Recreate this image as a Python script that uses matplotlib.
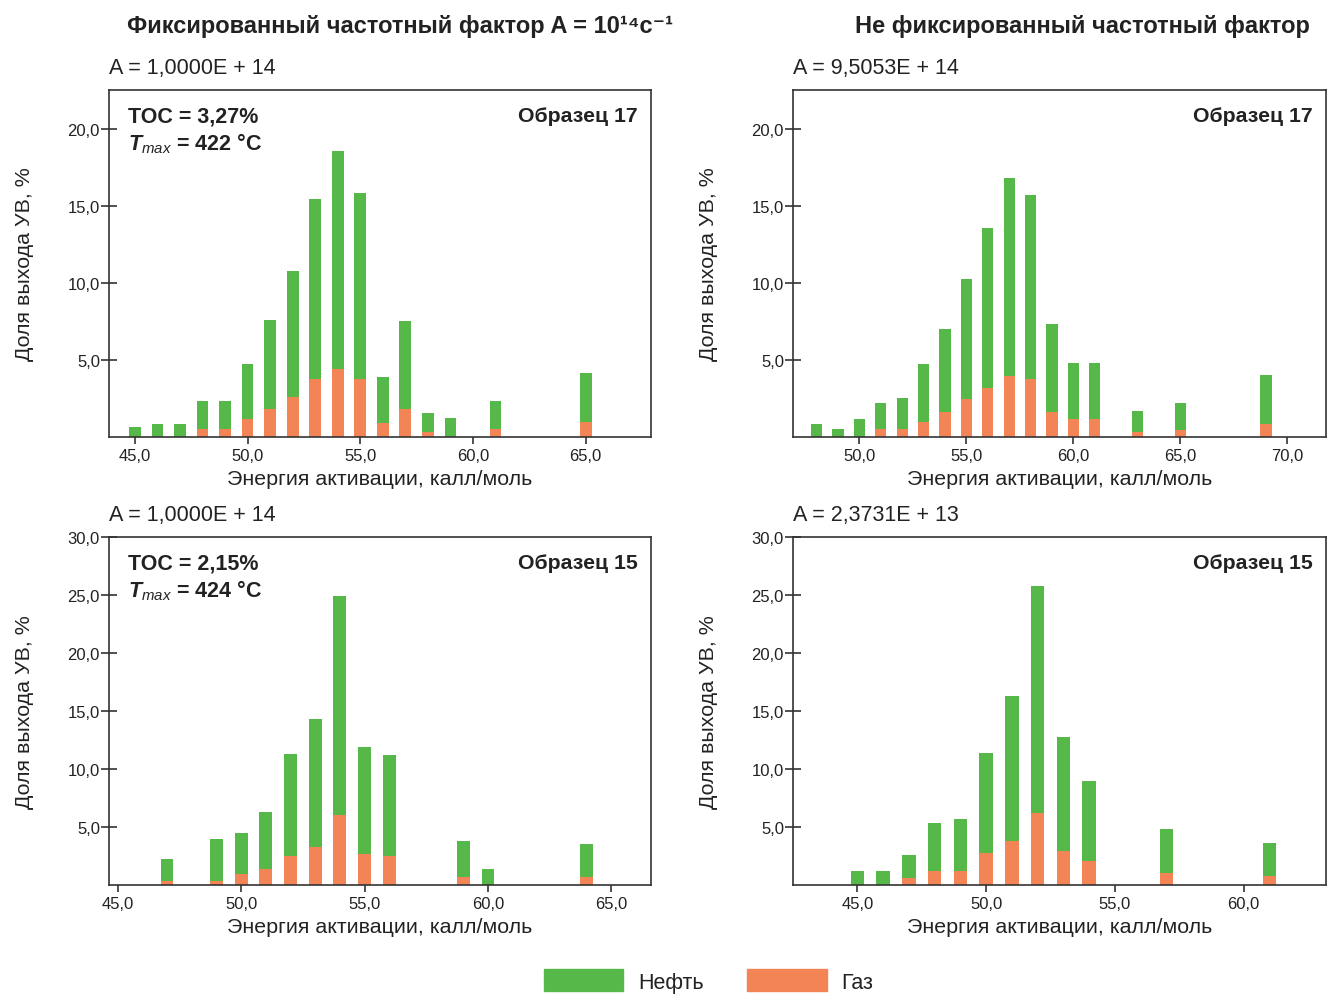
import numpy as np
import matplotlib
matplotlib.use("Agg")
import matplotlib.pyplot as plt
from matplotlib.patches import Patch
from matplotlib.ticker import FuncFormatter, MultipleLocator

plt.rcParams['font.family'] = ['Liberation Sans', 'DejaVu Sans']
plt.rcParams['mathtext.fontset'] = 'custom'
plt.rcParams['mathtext.rm'] = 'Liberation Sans'
plt.rcParams['mathtext.it'] = 'Liberation Sans:italic'
plt.rcParams['mathtext.bf'] = 'Liberation Sans:bold'
plt.rcParams['mathtext.bfit'] = 'Liberation Sans:bold:italic'

GREEN = '#57b84a'
ORANGE = '#f38455'
EDGE = '#333333'
TXT = '#222222'

# Образец 17, фиксированный A
e17_fix = [45, 46, 47, 48, 49, 50, 51, 52, 53, 54, 55, 56, 57, 58, 59, 61, 65]
oil17_fix = [0.65, 0.84, 0.84, 1.80, 1.80, 3.60, 5.78, 8.17, 11.69, 14.08, 12.08, 2.96, 5.72, 1.22, 1.23, 1.80, 3.15]
gas17_fix = [0, 0, 0, 0.52, 0.52, 1.16, 1.81, 2.57, 3.74, 4.44, 3.74, 0.91, 1.81, 0.33, 0, 0.52, 0.97]

# Образец 17, не фиксированный A
e17_free = [48, 49, 50, 51, 52, 53, 54, 55, 56, 57, 58, 59, 60, 61, 63, 65, 69]
oil17_free = [0.84, 0.52, 1.16, 1.67, 1.99, 3.79, 5.41, 7.79, 10.37, 12.87, 11.98, 5.73, 3.67, 3.67, 1.35, 1.74, 3.15]
gas17_free = [0, 0, 0, 0.52, 0.52, 0.97, 1.61, 2.45, 3.15, 3.93, 3.73, 1.61, 1.16, 1.16, 0.32, 0.45, 0.84]

# Образец 15, фиксированный A
e15_fix = [47, 49, 50, 51, 52, 53, 54, 55, 56, 59, 60, 64]
oil15_fix = [1.90, 3.62, 3.53, 4.91, 8.78, 11.03, 18.92, 9.22, 8.70, 3.10, 1.41, 2.84]
gas15_fix = [0.37, 0.37, 0.98, 1.41, 2.53, 3.30, 6.00, 2.70, 2.53, 0.72, 0, 0.72]

# Образец 15, не фиксированный A
e15_free = [45, 46, 47, 48, 49, 50, 51, 52, 53, 54, 57, 61]
oil15_free = [1.20, 1.20, 1.97, 4.11, 4.46, 8.66, 12.52, 19.63, 9.86, 6.94, 3.77, 2.83]
gas15_free = [0, 0, 0.60, 1.20, 1.20, 2.74, 3.77, 6.17, 2.91, 2.06, 1.03, 0.77]

comma = FuncFormatter(lambda v, p: f'{v:.1f}'.replace('.', ','))

fig = plt.figure(figsize=(13.27, 9.95), dpi=100)


def panel(rect, e, oil, gas, xlim, ylim, ymax_tick, a_text, sample, toc=None, tmax=None):
    ax = fig.add_axes(rect)
    ax.bar(e, gas, width=0.52, color=ORANGE, linewidth=0)
    ax.bar(e, oil, width=0.52, bottom=gas, color=GREEN, linewidth=0)
    ax.set_xlim(*xlim)
    ax.set_ylim(*ylim)
    ax.set_yticks(np.arange(5, ymax_tick + 0.1, 5))
    ax.xaxis.set_major_locator(MultipleLocator(5))
    ax.xaxis.set_major_formatter(comma)
    ax.yaxis.set_major_formatter(comma)
    for s in ax.spines.values():
        s.set_color(EDGE)
        s.set_linewidth(1.2)
    ax.tick_params(axis='y', direction='inout', length=11, width=1.2, color=EDGE,
                   labelsize=12, labelcolor=TXT, pad=1)
    ax.tick_params(axis='x', direction='out', length=5, width=1.2, color=EDGE,
                   labelsize=12, labelcolor=TXT, pad=3)
    ax.set_xlabel('Энергия активации, калл/моль', fontsize=15.4, color=TXT, labelpad=4)
    ax.set_ylabel('Доля выхода УВ, %', fontsize=15.4, color=TXT, labelpad=24)
    ax.text(0, 1.035, a_text, transform=ax.transAxes, fontsize=15.5, va='bottom', ha='left', color=TXT)
    ax.text(0.975, 0.955, sample, transform=ax.transAxes, fontsize=15.3, fontweight='bold',
            va='top', ha='right', color=TXT)
    if toc is not None:
        ax.text(0.035, 0.955, f'TOC = {toc}', transform=ax.transAxes, fontsize=15.5,
                fontweight='bold', va='top', ha='left', color=TXT)
        ax.text(0.035, 0.885, r'$\mathbfit{T}_{\mathit{max}}$' + f' = {tmax} °C', transform=ax.transAxes,
                fontsize=15.5, fontweight='bold', va='top', ha='left', color=TXT)
    return ax


W = 1327.0
H = 995.0
panel([109 / W, 1 - 438 / H, 542 / W, 347 / H], e17_fix, oil17_fix, gas17_fix,
      (43.85, 67.9), (0, 22.5), 20, 'A = 1,0000E + 14', 'Образец 17', '3,27%', 422)
panel([793 / W, 1 - 438 / H, 533 / W, 347 / H], e17_free, oil17_free, gas17_free,
      (46.9, 71.8), (0, 22.5), 20, 'A = 9,5053E + 14', 'Образец 17')
panel([109 / W, 1 - 886 / H, 542 / W, 348 / H], e15_fix, oil15_fix, gas15_fix,
      (44.65, 66.6), (0, 30), 30, 'A = 1,0000E + 14', 'Образец 15', '2,15%', 424)
panel([793 / W, 1 - 886 / H, 533 / W, 348 / H], e15_free, oil15_free, gas15_free,
      (42.5, 63.2), (0, 30), 30, 'A = 2,3731E + 13', 'Образец 15')

fig.text(400 / W, 1 - 27 / H, 'Фиксированный частотный фактор A = 10¹⁴с⁻¹',
         fontsize=17, fontweight='bold', ha='center', va='center', color=TXT)
fig.text(1082 / W, 1 - 27 / H, 'Не фиксированный частотный фактор',
         fontsize=17, fontweight='bold', ha='center', va='center', color=TXT)

handles = [Patch(color=GREEN, label='Нефть'), Patch(color=ORANGE, label='Газ')]
fig.legend(handles=handles, loc='lower center', bbox_to_anchor=(0.534, -0.018), ncol=2,
           frameon=False, fontsize=15.5, handlelength=3.7, handleheight=1.2,
           handletextpad=0.7, columnspacing=2.0, labelcolor=TXT)

fig.savefig('out.png', dpi=100)
